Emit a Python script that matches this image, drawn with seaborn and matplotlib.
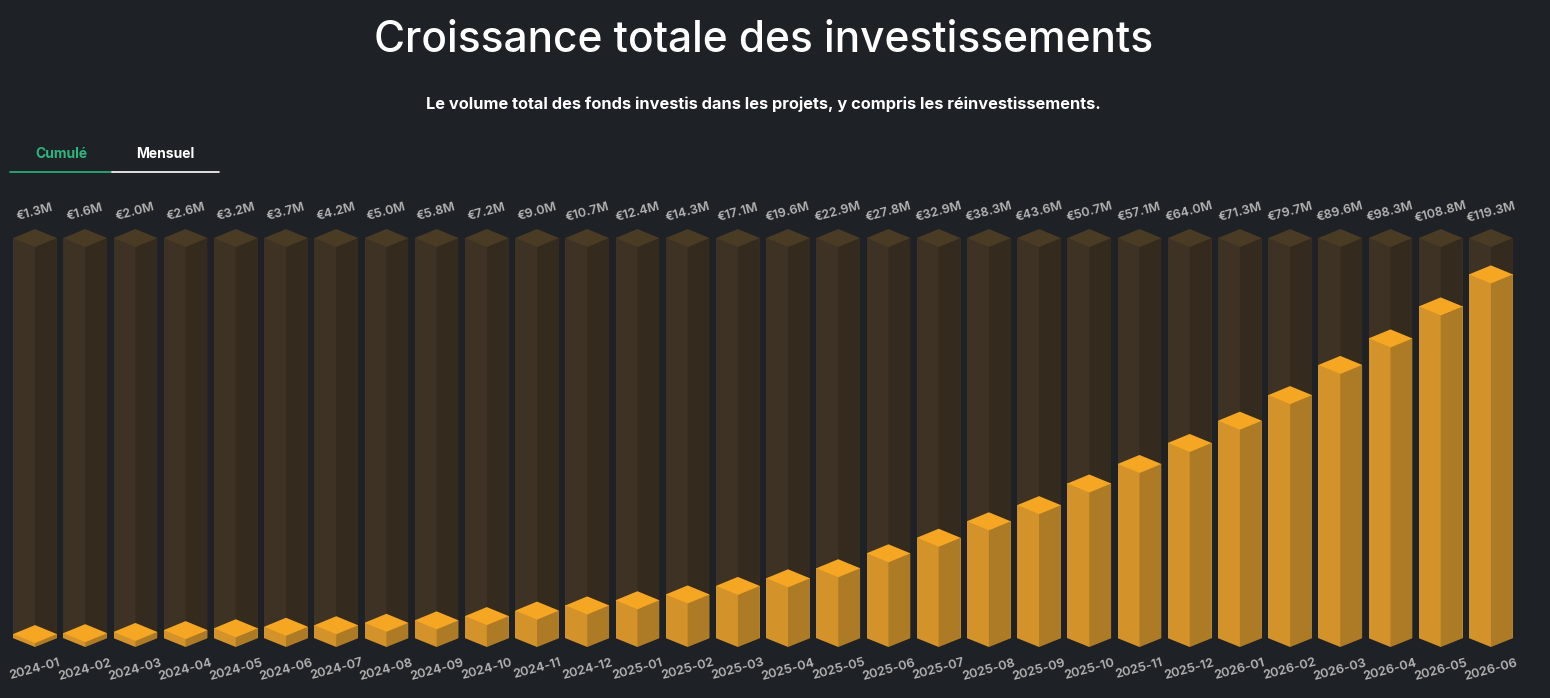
import matplotlib
matplotlib.use("Agg")
import matplotlib.pyplot as plt
import seaborn as sns
import pandas as pd

# données (cumul en millions d'euros)
months = ["2024-01", "2024-02", "2024-03", "2024-04", "2024-05", "2024-06",
          "2024-07", "2024-08", "2024-09", "2024-10", "2024-11", "2024-12",
          "2025-01", "2025-02", "2025-03", "2025-04", "2025-05", "2025-06",
          "2025-07", "2025-08", "2025-09", "2025-10", "2025-11", "2025-12",
          "2026-01", "2026-02", "2026-03", "2026-04", "2026-05", "2026-06"]
values = [1.3, 1.6, 2.0, 2.6, 3.2, 3.7, 4.2, 5.0, 5.8, 7.2, 9.0, 10.7,
          12.4, 14.3, 17.1, 19.6, 22.9, 27.8, 32.9, 38.3, 43.6, 50.7, 57.1, 64.0,
          71.3, 79.7, 89.6, 98.3, 108.8, 119.3]
value_labels = [f"€{v:.1f}M" for v in values]

BG = "#1e2125"
GHOST_LEFT, GHOST_RIGHT, GHOST_TOP = "#3d3223", "#342a1e", "#4a3b25"
BAR_LEFT, BAR_RIGHT, BAR_TOP = "#d4922a", "#ad7a25", "#f5a623"
LABEL = "#b4b4b4"
GREEN = "#2db67c"

W, H = 1550, 698
BAR_W = 0.87
DEPTH = 2.95  # décalage isométrique (unités de données)

sns.set_theme(style="dark", rc={"axes.facecolor": BG, "figure.facecolor": BG})
plt.rcParams["font.family"] = ["Inter", "DejaVu Sans"]

df = pd.DataFrame({"month": months, "value": values})
ghost = max(values) * 1.1
df["ghost_front"] = ghost + DEPTH
df["bar_front"] = df["value"] + DEPTH

fig = plt.figure(figsize=(W / 100, H / 100), dpi=100)
ax_left, ax_right, ax_bottom, ax_top = 9.9, 1516, 647, 190
ax = fig.add_axes([ax_left / W, (H - ax_bottom) / H,
                   (ax_right - ax_left) / W, (ax_bottom - ax_top) / H])

xs = list(range(len(months)))
half = BAR_W / 2

# colonnes fantômes (pleine hauteur)
sns.barplot(data=df, x="month", y="ghost_front", color=GHOST_LEFT,
            width=BAR_W, saturation=1, linewidth=0, ax=ax, zorder=2)
for x in xs:
    xl, xc, xr = x - half, x, x + half
    ax.fill([xc, xr, xr, xc], [0, DEPTH, ghost + DEPTH, ghost],
            color=GHOST_RIGHT, lw=0, zorder=3)
    ax.fill([xl, xc, xr, xc], [ghost + DEPTH, ghost, ghost + DEPTH, ghost + 2 * DEPTH],
            color=GHOST_TOP, lw=0, zorder=3)

# colonnes de valeur
sns.barplot(data=df, x="month", y="bar_front", color=BAR_LEFT,
            width=BAR_W, saturation=1, linewidth=0, ax=ax, zorder=4)
for p in ax.patches[len(xs):]:
    p.set_zorder(4)
for x, v in zip(xs, values):
    xl, xc, xr = x - half, x, x + half
    ax.fill([xc, xr, xr, xc], [0, DEPTH, v + DEPTH, v], color=BAR_RIGHT, lw=0, zorder=5)
    ax.fill([xl, xc, xr, xc], [v + DEPTH, v, v + DEPTH, v + 2 * DEPTH],
            color=BAR_TOP, lw=0, zorder=5)
    # base isométrique : on découpe les coins sous les arêtes inférieures
    ax.fill([xl - 0.01, xl - 0.01, xc], [-1, DEPTH, 0], color=BG, lw=0, zorder=6)
    ax.fill([xc, xr + 0.01, xr + 0.01], [0, DEPTH, -1], color=BG, lw=0, zorder=6)

for x, lab in zip(xs, value_labels):
    ax.text(x, ghost + 2 * DEPTH + 5.5, lab, ha="center", va="center", rotation=15,
            color=LABEL, fontsize=9, fontweight="semibold", zorder=7)

ax.set_xlim(-0.5, len(xs) - 0.5)
ax.set_ylim(0, (ax_bottom - ax_top) / 400 * ghost)
ax.set_xlabel("")
ax.set_ylabel("")
ax.set_yticks([])
ax.tick_params(axis="x", length=0, pad=7, labelsize=9.2, labelcolor=LABEL)
for t in ax.get_xticklabels():
    t.set_rotation(15)
    t.set_fontweight("semibold")
    t.set_ha("center")
for s in ax.spines.values():
    s.set_visible(False)
ax.grid(False)

# titres et onglets
fig.text(764 / W, 1 - 40 / H, "Croissance totale des investissements",
         ha="center", va="center", color="white", fontsize=30.5, fontweight="medium")
fig.text(763 / W, 1 - 104 / H,
         "Le volume total des fonds investis dans les projets, y compris les réinvestissements.",
         ha="center", va="center", color="white", fontsize=11.8, fontweight="bold")
fig.text(61 / W, 1 - 154 / H, "Cumulé", ha="center", va="center",
         color=GREEN, fontsize=10, fontweight="bold")
fig.text(165 / W, 1 - 154 / H, "Mensuel", ha="center", va="center",
         color="white", fontsize=10, fontweight="bold")
fig.add_artist(plt.Line2D([10 / W, 112 / W], [1 - 172 / H] * 2, color=GREEN, lw=1.2))
fig.add_artist(plt.Line2D([112 / W, 219 / W], [1 - 172 / H] * 2, color="white", lw=1.2))

fig.savefig("out.png", dpi=100, facecolor=BG)
